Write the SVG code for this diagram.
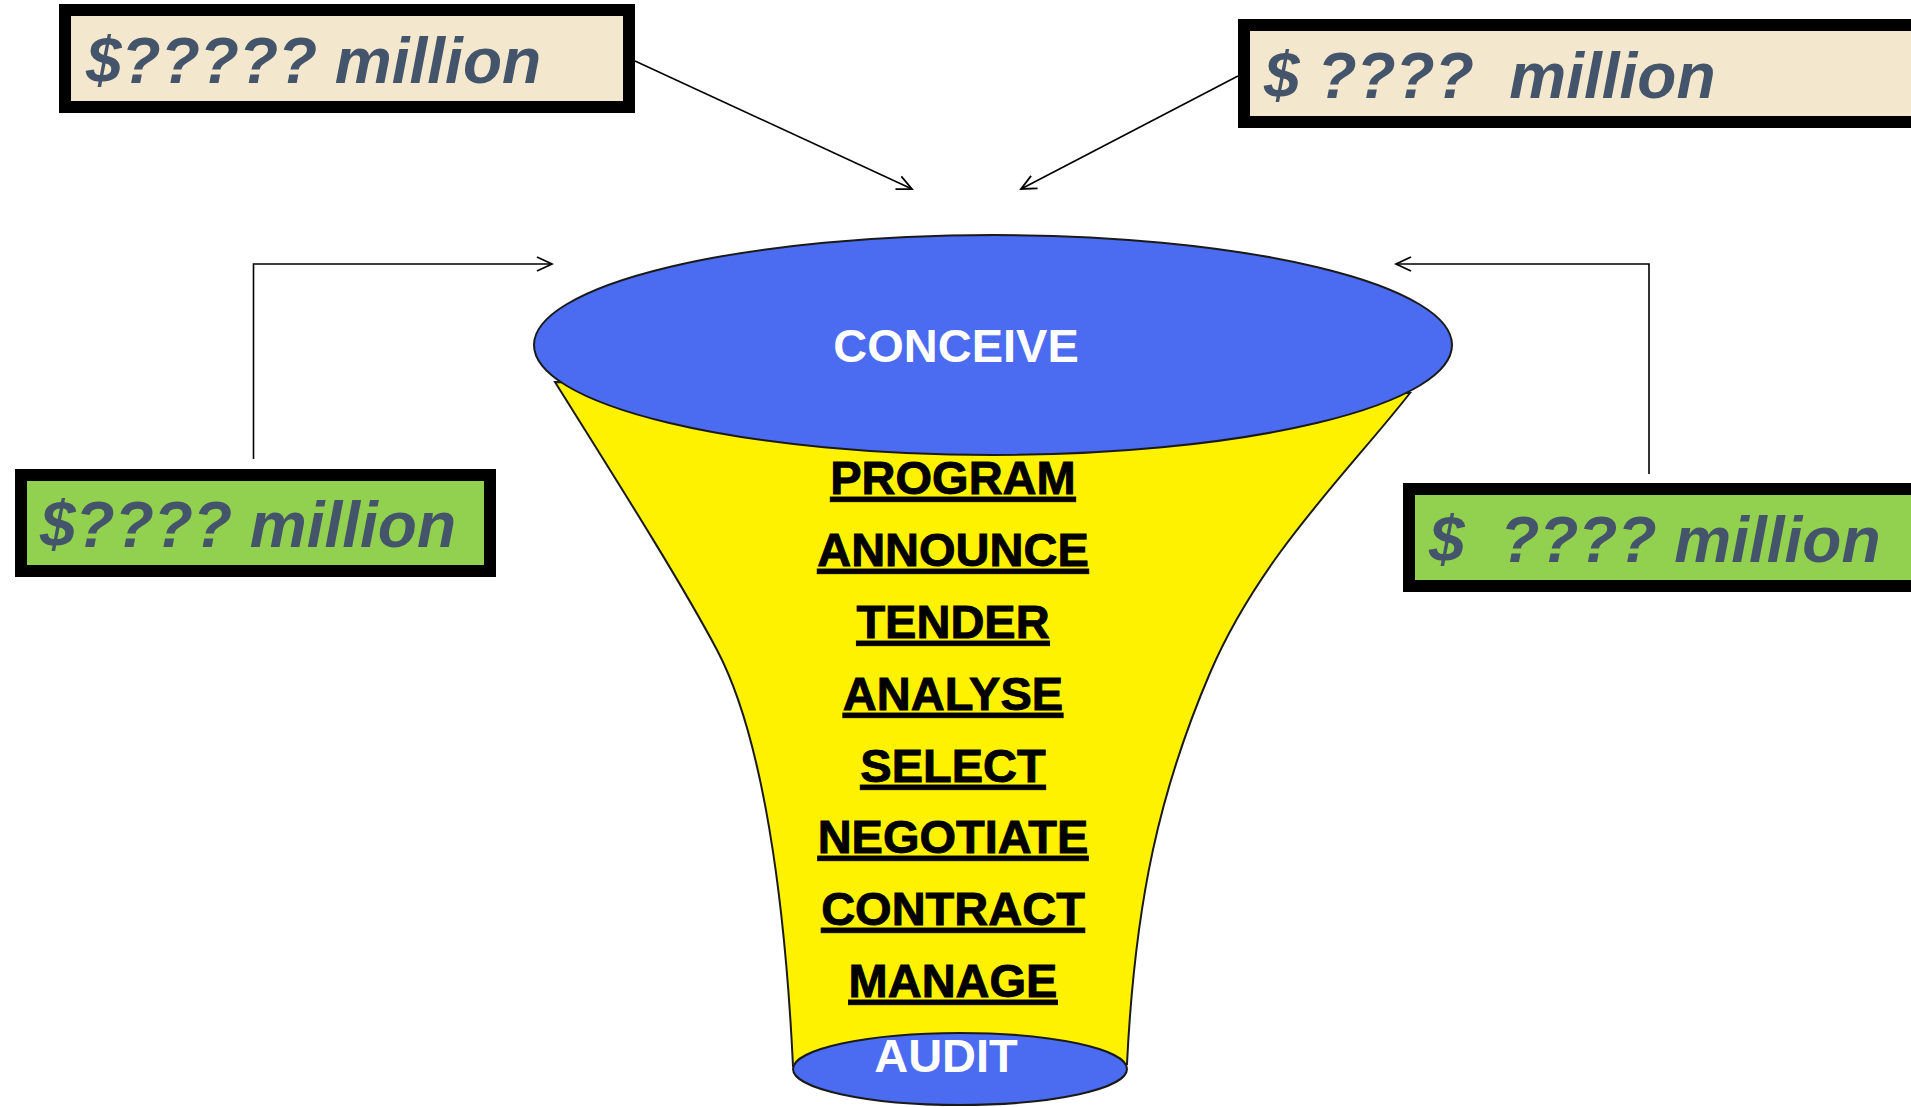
<svg xmlns="http://www.w3.org/2000/svg" width="1911" height="1107" viewBox="0 0 1911 1107">
<style>
  .box { stroke:#000; stroke-width:12; }
  .beige { fill:#F3E8CD; }
  .green { fill:#92D050; }
  .amt { font-family:"Liberation Sans", Arial, sans-serif; font-weight:bold; font-style:italic; font-size:64px; fill:#44546A; white-space:pre; }
  .step { font-family:"Liberation Sans", Arial, sans-serif; font-weight:bold; font-size:47px; fill:#000; stroke:#000; stroke-width:0.9; text-anchor:middle; text-decoration:underline; }
  .white { font-family:"Liberation Sans", Arial, sans-serif; font-weight:bold; font-size:47px; fill:#fff; text-anchor:middle; }
  .conn { fill:none; stroke:#000; stroke-width:1.6; marker-end:url(#arr); }
  .outline { stroke:#1a1a1a; stroke-width:2; }
</style>
<defs>
  <marker id="arr" markerWidth="20" markerHeight="20" refX="18" refY="10" orient="auto" markerUnits="userSpaceOnUse">
    <path d="M3,3 L18,10 L3,17" fill="none" stroke="#000" stroke-width="1.8"/>
  </marker>
</defs>
<rect width="1911" height="1107" fill="#fff"/>

<g id="funnel">
  <path class="outline" fill="#FFF200" d="M555,382 C610,470 680,580 717,650 C763,737 785,900 793,1066 L1127,1064 C1135,900 1160,790 1210,673 C1260,556 1350,470 1410,393 Z"/>
  <g id="conceive">
    <ellipse class="outline" cx="993" cy="345" rx="459" ry="110" fill="#4B6BF0"/>
    <text class="white" x="956" y="362" font-size="48">CONCEIVE</text>
  </g>
  <g id="audit">
    <ellipse class="outline" cx="960" cy="1069" rx="167" ry="36" fill="#4B6BF0"/>
    <text class="white" x="946" y="1072">AUDIT</text>
  </g>
  <g id="steps">
    <text class="step" x="953" y="494">PROGRAM</text>
    <text class="step" x="953" y="566">ANNOUNCE</text>
    <text class="step" x="953" y="638">TENDER</text>
    <text class="step" x="953" y="710">ANALYSE</text>
    <text class="step" x="953" y="782">SELECT</text>
    <text class="step" x="953" y="853">NEGOTIATE</text>
    <text class="step" x="953" y="925">CONTRACT</text>
    <text class="step" x="953" y="997">MANAGE</text>
  </g>
</g>

<g id="box-top-left">
  <rect class="box beige" x="65" y="10" width="564" height="97"/>
  <text class="amt" x="86" y="83">$????? million</text>
</g>
<g id="box-top-right">
  <rect class="box beige" x="1244" y="25" width="674" height="97"/>
  <text class="amt" x="1264" y="98">$ ????  million</text>
</g>
<g id="box-left">
  <rect class="box green" x="21" y="475" width="469" height="96"/>
  <text class="amt" x="40" y="547">$???? million</text>
</g>
<g id="box-right">
  <rect class="box green" x="1409" y="489" width="509" height="97"/>
  <text class="amt" x="1429" y="562">$  ???? million</text>
</g>

<g id="connectors">
  <path class="conn" d="M635,61 L912,189"/>
  <path class="conn" d="M1238,76 L1021,189"/>
  <path class="conn" d="M253.5,459 V264 H552"/>
  <path class="conn" d="M1649,474 V264 H1396"/>
</g>
</svg>
